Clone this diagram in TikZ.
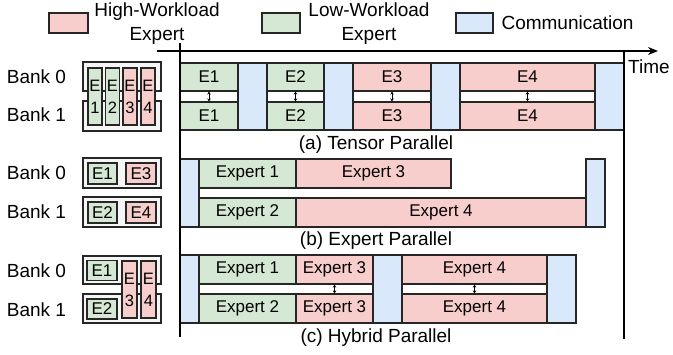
\documentclass[tikz,border=0pt]{standalone}
\usepackage{fontspec}
\setmainfont{Liberation Sans}
\usepackage{xcolor}
\usetikzlibrary{positioning}
\usetikzlibrary{arrows.meta}

\definecolor{hiload}{HTML}{F8CECC}
\definecolor{loload}{HTML}{D5E8D4}
\definecolor{commfill}{HTML}{DAE8FC}
\definecolor{bankfill}{HTML}{F5F5F5}

\tikzset{
  box/.style={draw=black!85, line width=1.1pt, inner sep=0pt, font=\fontsize{17}{20}\selectfont},
  hibox/.style={box, fill=hiload},
  lobox/.style={box, fill=loload},
  commbox/.style={box, fill=commfill},
  bankbox/.style={box, fill=bankfill},
  tall/.style={align=center, font=\fontsize{16.5}{22}\selectfont},
  wd/.style={minimum width=#1pt},
  ht/.style={minimum height=#1pt},
  lbl/.style={font=\fontsize{19}{24}\selectfont, align=center},
  dbl/.style={{Stealth[length=3pt,width=3.5pt]}-{Stealth[length=3pt,width=3.5pt]}, line width=0.8pt},
}

\begin{document}
\begin{tikzpicture}[x=1pt,y=-1pt]
\useasboundingbox (0,0) rectangle (673,354);

% legend
\node[hibox, wd=39, ht=20] (leghi) at (68.5,23) {};
\node[lbl] (leghitxt) at (157,24) {High-Workload\\Expert};
\node[lobox, wd=38, ht=20] (leglo) at (281,23) {};
\node[lbl] (leglotxt) at (369,24) {Low-Workload\\Expert};
\node[commbox, wd=37, ht=20] (legcm) at (474.5,23) {};
\node[lbl, anchor=west] (legcmtxt) at (498,23) {Communication};

% (a) tensor parallel
\node[lbl] (bank0a) at (36.5,77) {Bank 0};
\node[lbl] (bank1a) at (36.5,115) {Bank 1};
\node[bankbox, wd=78, ht=29] (mem0a) at (122,76.5) {};
\node[bankbox, wd=78, ht=30] (mem1a) at (122,116) {};
\node[lobox, tall, wd=14, ht=57] (ma1) at (95,96.5) {E\\1};
\node[lobox, tall, wd=14, ht=57] (ma2) at (112.5,96.5) {E\\2};
\node[hibox, tall, wd=14, ht=57] (ma3) at (130,96.5) {E\\3};
\node[hibox, tall, wd=14, ht=57] (ma4) at (148,96.5) {E\\4};

\node[lobox, wd=58, ht=28] (a1t) at (209,77) {E1};
\node[lobox, wd=58, ht=28] (a1b) at (209,116) {E1};
\node[commbox, wd=29, ht=67] (ac1) at (252.5,96.5) {};
\node[lobox, wd=57, ht=28] (a2t) at (295.5,77) {E2};
\node[lobox, wd=57, ht=28] (a2b) at (295.5,116) {E2};
\node[commbox, wd=29, ht=67] (ac2) at (338.5,96.5) {};
\node[hibox, wd=78, ht=28] (a3t) at (392,77) {E3};
\node[hibox, wd=78, ht=28] (a3b) at (392,116) {E3};
\node[commbox, wd=29, ht=67] (ac3) at (445.5,96.5) {};
\node[hibox, wd=135, ht=28] (a4t) at (527.5,77) {E4};
\node[hibox, wd=135, ht=28] (a4b) at (527.5,116) {E4};
\node[commbox, wd=29, ht=67] (ac4) at (609.5,96.5) {};
\foreach \e in {1,2,3,4}
  \draw[box] (a\e t.north west) rectangle (a\e b.south east);
\path[dbl] (a1t) edge (a1b)
           (a2t) edge (a2b)
           (a3t) edge (a3b)
           (a4t) edge (a4b);
\node[lbl] (capa) at (376,145) {(a) Tensor Parallel};

% (b) expert parallel
\node[lbl] (bank0b) at (36.5,173) {Bank 0};
\node[lbl] (bank1b) at (36.5,212) {Bank 1};
\node[bankbox, wd=78, ht=30] (mem0b) at (122,173) {};
\node[bankbox, wd=78, ht=30] (mem1b) at (122,212) {};
\node[lobox, wd=29, ht=21] (mb1) at (102.5,173.5) {E1};
\node[hibox, wd=30, ht=21] (mb3) at (141,173.5) {E3};
\node[lobox, wd=29, ht=21] (mb2) at (102.5,212.5) {E2};
\node[hibox, wd=30, ht=21] (mb4) at (141,212.5) {E4};

\node[commbox, wd=19, ht=68] (bc1) at (189.5,193) {};
\node[lobox, wd=97, ht=29] (b1) at (247.5,173.5) {Expert 1};
\node[lobox, wd=97, ht=29] (b2) at (247.5,212.5) {Expert 2};
\node[hibox, wd=155, ht=29] (b3) at (373.5,173.5) {Expert 3};
\node[hibox, wd=290, ht=29] (b4) at (441,212.5) {Expert 4};
\node[commbox, wd=19, ht=68] (bc2) at (595.5,193) {};
\node[lbl] (capb) at (376,241) {(b) Expert Parallel};

% (c) hybrid parallel
\node[lbl] (bank0c) at (36.5,271) {Bank 0};
\node[lbl] (bank1c) at (36.5,310) {Bank 1};
\node[bankbox, wd=78, ht=28] (mem0c) at (122,270) {};
\node[bankbox, wd=78, ht=29] (mem1c) at (122,308.5) {};
\node[lobox, wd=30, ht=20] (mc1) at (102,270.5) {E1};
\node[lobox, wd=30, ht=20] (mc2) at (102,309) {E2};
\node[hibox, tall, wd=15, ht=57] (mc3) at (129.5,289.5) {E\\3};
\node[hibox, tall, wd=15, ht=57] (mc4) at (148.5,289.5) {E\\4};

\node[commbox, wd=19, ht=68] (cc1) at (189.5,289) {};
\node[lobox, wd=97, ht=29] (c1t) at (247.5,269.5) {Expert 1};
\node[lobox, wd=97, ht=29] (c1b) at (247.5,308.5) {Expert 2};
\node[hibox, wd=77, ht=29] (c3t) at (334.5,269.5) {Expert 3};
\node[hibox, wd=77, ht=29] (c3b) at (334.5,308.5) {Expert 3};
\node[commbox, wd=29, ht=68] (cc2) at (387.5,289) {};
\node[hibox, wd=145, ht=29] (c4t) at (474.5,269.5) {Expert 4};
\node[hibox, wd=145, ht=29] (c4b) at (474.5,308.5) {Expert 4};
\node[commbox, wd=29, ht=68] (cc3) at (561.5,289) {};
\draw[box] (c1t.north west) rectangle (c3b.south east);
\draw[box] (c4t.north west) rectangle (c4b.south east);
\path[dbl] (c3t) edge (c3b)
           (c4t) edge (c4b);
\node[lbl] (capc) at (376,338) {(c) Hybrid Parallel};

% time axis
\coordinate (t0) at (157,51);
\coordinate (t1) at (658,51);
\coordinate (s0) at (180,43);
\coordinate (s1) at (180,337);
\coordinate (e0) at (624,51);
\coordinate (e1) at (624,339);
\draw[line width=1.3pt, -{Stealth[length=10pt,width=8pt]}] (t0) -- (t1);
\draw[line width=1.3pt] (s0) -- (s1);
\draw[line width=1.3pt] (e0) -- (e1);
\node[lbl] (time) at (649,67) {Time};

\end{tikzpicture}
\end{document}
